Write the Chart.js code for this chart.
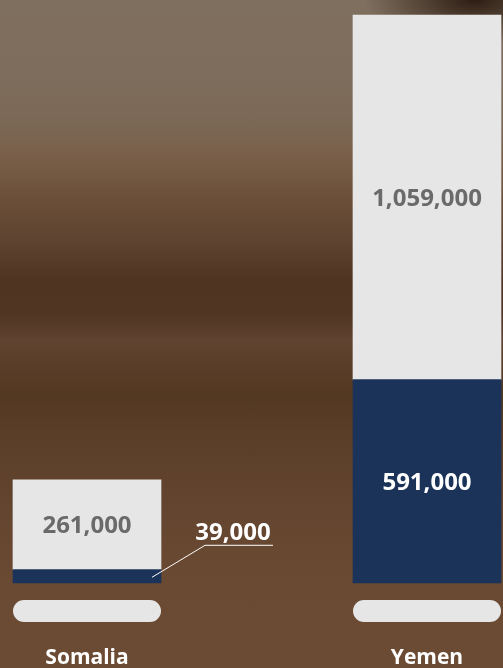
<!DOCTYPE html>
<html lang="en">
<head>
    <meta charset="UTF-8">
    <title>Somalia and Yemen</title>
    <script src="https://cdn.jsdelivr.net/npm/chart.js"></script>
    <style>
        html, body { margin: 0; padding: 0; }
        body {
            width: 503px;
            height: 668px;
            overflow: hidden;
            background:
                radial-gradient(ellipse 110px 45px at 475px 0px, rgba(40,24,14,0.95), rgba(40,24,14,0) 100%),
                linear-gradient(to bottom, #7f6f5f 0%, #7e6d5c 12%, #7b6754 19%, #7a604a 23%, #6a4e38 30%, #5e4430 36%, #4e3421 42%, #4f3522 47%, #604330 51%, #5a3d28 55%, #533822 59%, #5e412b 69%, #654630 78%, #6a4a32 88%, #6b4b33 100%);
        }
        #wrap { position: relative; width: 503px; height: 668px; }
    </style>
</head>
<body>
<div id="wrap"><canvas id="chart" width="503" height="668"></canvas></div>

<script>
    const countries = ["Somalia", "Yemen"];
    const navyValues = [39000, 591000];
    const grayValues = [261000, 1059000];

    const navy = "#1b3358";
    const light = "#e6e6e6";
    const fontFamily = "'Open Sans', Lato, sans-serif";

    function fmt(v) {
        return v.toLocaleString("en-US");
    }

    // value labels, pills under the bars and country names
    const decorations = {
        id: "decorations",
        afterDatasetsDraw(chart) {
            const ctx = chart.ctx;
            const xScale = chart.scales.x;
            ctx.save();
            ctx.textAlign = "center";
            ctx.font = "bold 24px " + fontFamily;

            chart.data.datasets.forEach((ds, di) => {
                const meta = chart.getDatasetMeta(di);
                meta.data.forEach((bar, i) => {
                    const h = bar.base - bar.y;
                    const text = fmt(ds.data[i]);
                    if (h > 35) {
                        ctx.fillStyle = di === 0 ? "#ffffff" : "#6a6a6a";
                        ctx.textBaseline = "middle";
                        ctx.fillText(text, bar.x, bar.y + h / 2 + 2);
                    } else {
                        // small segment: callout to the right
                        const sy = bar.y + h / 2 + 1;
                        ctx.strokeStyle = "#ffffff";
                        ctx.lineWidth = 1;
                        ctx.beginPath();
                        ctx.moveTo(bar.x + 65, sy);
                        ctx.lineTo(bar.x + 118, sy - 32);
                        ctx.lineTo(bar.x + 186, sy - 32);
                        ctx.stroke();
                        ctx.fillStyle = "#ffffff";
                        ctx.textBaseline = "alphabetic";
                        ctx.fillText(text, bar.x + 146, sy - 37);
                    }
                });
            });

            const bottom = chart.chartArea.bottom;
            countries.forEach((c, i) => {
                const cx = xScale.getPixelForValue(i);
                ctx.fillStyle = light;
                ctx.beginPath();
                ctx.roundRect(cx - 74, bottom + 17, 148, 22, 11);
                ctx.fill();
                ctx.fillStyle = "#ffffff";
                ctx.font = "bold 21px " + fontFamily;
                ctx.textBaseline = "alphabetic";
                ctx.fillText(c, cx, bottom + 81);
            });
            ctx.restore();
        }
    };

    new Chart(document.getElementById("chart"), {
        type: "bar",
        data: {
            labels: countries,
            datasets: [
                { data: navyValues, backgroundColor: navy, barThickness: 148, clip: false },
                { data: grayValues, backgroundColor: light, barThickness: 148, clip: false }
            ]
        },
        options: {
            responsive: false,
            animation: false,
            layout: { padding: { top: 15, bottom: 85, left: 87, right: 76 } },
            plugins: { legend: { display: false }, tooltip: { enabled: false } },
            scales: {
                x: { stacked: true, offset: false, display: false },
                y: { stacked: true, display: false, min: 0, max: 1650000 }
            }
        },
        plugins: [decorations]
    });
</script>
</body>
</html>
